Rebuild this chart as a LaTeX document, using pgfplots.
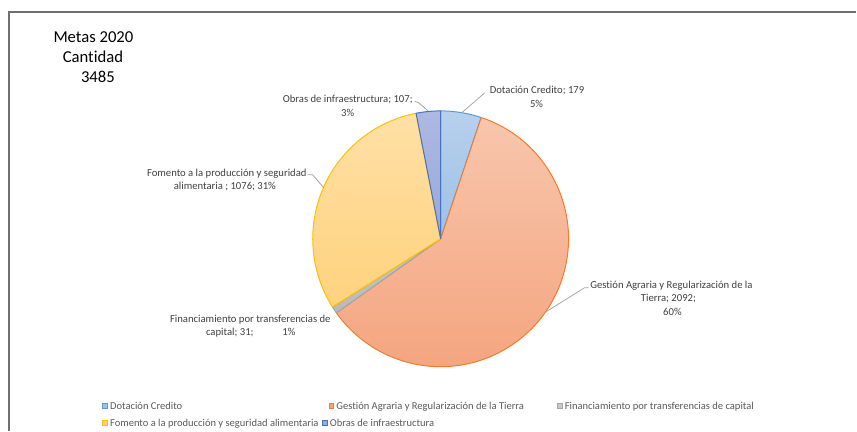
\documentclass[border=0pt]{standalone}
\usepackage{pgfplots}
\pgfplotsset{compat=1.18}
\usepackage{fontspec}
\setmainfont{Carlito}[RawFeature={-liga;-clig;-dlig}]
\definecolor{dotTop}{HTML}{B7D0EC}
\definecolor{dotBot}{HTML}{9DC1E6}
\definecolor{dotLine}{HTML}{5B9BD5}
\definecolor{gesTop}{HTML}{F8C6AC}
\definecolor{gesBot}{HTML}{F4A37D}
\definecolor{gesLine}{HTML}{ED7D31}
\definecolor{finTop}{HTML}{C8C8C8}
\definecolor{finBot}{HTML}{B9B9B9}
\definecolor{finLine}{HTML}{A5A5A5}
\definecolor{fomTop}{HTML}{FFE0A6}
\definecolor{fomBot}{HTML}{FFD27D}
\definecolor{fomLine}{HTML}{FFC000}
\definecolor{obrTop}{HTML}{AEB9E2}
\definecolor{obrBot}{HTML}{97A8DA}
\definecolor{obrLine}{HTML}{4472C4}
\definecolor{lblText}{HTML}{404040}
\definecolor{legText}{HTML}{595959}
\definecolor{leader}{HTML}{A6A6A6}
\definecolor{frameC}{HTML}{707070}
% data
\def\vDot{179}\def\vGes{2092}\def\vFin{31}\def\vFom{1076}\def\vObr{107}
\pgfmathsetmacro{\tot}{\vDot+\vGes+\vFin+\vFom+\vObr}
\pgfmathsetmacro{\aA}{90}
\pgfmathsetmacro{\aB}{\aA-\vDot/\tot*360}
\pgfmathsetmacro{\aC}{\aB-\vGes/\tot*360}
\pgfmathsetmacro{\aD}{\aC-\vFin/\tot*360}
\pgfmathsetmacro{\aE}{\aD-\vFom/\tot*360}
\pgfmathsetmacro{\aF}{\aE-\vObr/\tot*360}
\newcommand{\lbl}{\fontsize{8}{10}\selectfont\color{lblText}}
\newcommand{\leg}{\fontsize{7.9}{10}\selectfont\color{legText}}
\newcommand{\ttl}{\fontsize{12.5}{15}\selectfont\color{black}}
\begin{document}
\begin{tikzpicture}
\begin{axis}[x=0.75pt, y=0.75pt, xmin=0, xmax=857, ymin=0, ymax=431,
  hide axis, clip=false]
\path (axis cs:0,0) rectangle (axis cs:857,431);
% frame
\draw[frameC, line width=1.1pt] (axis cs:9,0) -- (axis cs:9,419) -- (axis cs:857,419);
% wedges
\path[draw=dotLine, line width=0.75pt, line join=round, top color=dotTop, bottom color=dotBot]
  (axis cs:441,192) -- ++(\aA:96pt) arc[start angle=\aA, end angle=\aB, radius=96pt] -- cycle;
\path[draw=gesLine, line width=0.75pt, line join=round, top color=gesTop, bottom color=gesBot]
  (axis cs:441,192) -- ++(\aB:96pt) arc[start angle=\aB, end angle=\aC, radius=96pt] -- cycle;
\path[draw=finLine, line width=0.75pt, line join=round, top color=finTop, bottom color=finBot]
  (axis cs:441,192) -- ++(\aC:96pt) arc[start angle=\aC, end angle=\aD, radius=96pt] -- cycle;
\path[draw=fomLine, line width=0.75pt, line join=round, top color=fomTop, bottom color=fomBot]
  (axis cs:441,192) -- ++(\aD:96pt) arc[start angle=\aD, end angle=\aE, radius=96pt] -- cycle;
\path[draw=obrLine, line width=0.75pt, line join=round, top color=obrTop, bottom color=obrBot]
  (axis cs:441,192) -- ++(\aE:96pt) arc[start angle=\aE, end angle=\aF, radius=96pt] -- cycle;
% leader lines
\draw[leader, line width=0.6pt] (axis cs:485,338) -- (axis cs:462,318);
\draw[leader, line width=0.6pt] (axis cs:415,329.5) -- (axis cs:418.5,328.5) -- (axis cs:428.5,320);
\draw[leader, line width=0.6pt] (axis cs:308,256) -- (axis cs:313,256) -- (axis cs:324,243);
\draw[leader, line width=0.6pt] (axis cs:545,118) -- (axis cs:585,143) -- (axis cs:589,143);
% title
\node[anchor=base, inner sep=0pt] at (axis cs:93.5,388) {\ttl Metas 2020};
\node[anchor=base, inner sep=0pt] at (axis cs:93,368) {\ttl Cantidad};
\node[anchor=base, inner sep=0pt] at (axis cs:98,348) {\ttl 3485};
% data labels
\node[anchor=base, inner sep=0pt] at (axis cs:537.5,337.5) {\lbl Dotación Credito; 179};
\node[anchor=base, inner sep=0pt] at (axis cs:537,323.5) {\lbl 5\%};
\node[anchor=base, inner sep=0pt] at (axis cs:348,328.5) {\lbl Obras de infraestructura; 107;};
\node[anchor=base, inner sep=0pt] at (axis cs:348,314.5) {\lbl 3\%};
\node[anchor=base, inner sep=0pt] at (axis cs:227,254.5) {\lbl Fomento a la producción y seguridad};
\node[anchor=base, inner sep=0pt] at (axis cs:225,241.5) {\lbl alimentaria ; 1076; 31\%};
\node[anchor=base, inner sep=0pt] at (axis cs:250.5,108.5) {\lbl Financiamiento por transferencias de};
\node[anchor=base, inner sep=0pt] at (axis cs:251,95.5) {\lbl capital; 31;\hspace{21.75pt}1\%};
\node[anchor=base, inner sep=0pt] at (axis cs:672,142.5) {\lbl Gestión Agraria y Regularización de la};
\node[anchor=base, inner sep=0pt] at (axis cs:669,129) {\lbl Tierra; 2092;};
\node[anchor=base, inner sep=0pt] at (axis cs:673,115.5) {\lbl 60\%};
% legend
\node[draw=dotLine, fill=dotBot, line width=0.4pt, minimum size=3.6pt, inner sep=0pt] at (axis cs:105,24.5) {};
\node[anchor=base west, inner sep=0pt] at (axis cs:110,21) {\leg Dotación Credito};
\node[draw=gesLine, fill=gesBot, line width=0.4pt, minimum size=3.6pt, inner sep=0pt] at (axis cs:331.5,24.5) {};
\node[anchor=base west, inner sep=0pt] at (axis cs:336.5,21) {\leg Gestión Agraria y Regularización de la Tierra};
\node[draw=finLine, fill=finTop, line width=0.4pt, minimum size=3.6pt, inner sep=0pt] at (axis cs:560,24.5) {};
\node[anchor=base west, inner sep=0pt] at (axis cs:565,21) {\leg Financiamiento por transferencias de capital};
\node[draw=fomLine, fill=fomBot, line width=0.4pt, minimum size=3.6pt, inner sep=0pt] at (axis cs:105,7.5) {};
\node[anchor=base west, inner sep=0pt] at (axis cs:110,4) {\leg Fomento a la producción y seguridad alimentaria};
\node[draw=obrLine, fill=obrBot, line width=0.4pt, minimum size=3.6pt, inner sep=0pt] at (axis cs:325,7.5) {};
\node[anchor=base west, inner sep=0pt] at (axis cs:330,4) {\leg Obras de infraestructura};
\end{axis}
\end{tikzpicture}
\end{document}
